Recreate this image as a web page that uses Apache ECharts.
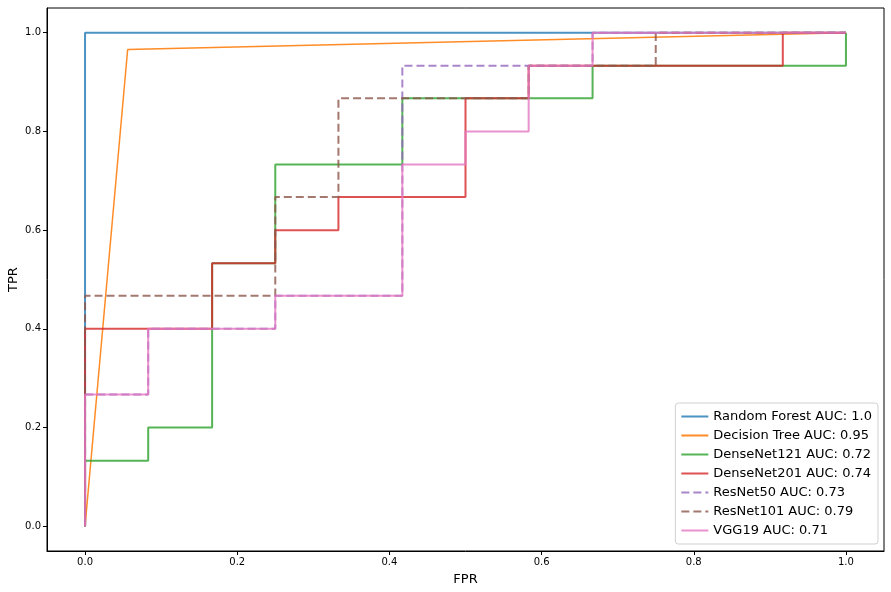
<!DOCTYPE html>
<html><head><meta charset="utf-8">
<script src="https://cdn.jsdelivr.net/npm/echarts@6/dist/echarts.min.js"></script>
<style>html,body{margin:0;padding:0;background:#fff}#c{width:891px;height:592px}</style>
</head><body><div id="c"></div>
<script>
const seriesNames = ['Random Forest AUC: 1.0','Decision Tree AUC: 0.95','DenseNet121 AUC: 0.72','DenseNet201 AUC: 0.74','ResNet50 AUC: 0.73','ResNet101 AUC: 0.79','VGG19 AUC: 0.71'];
const rfFPR = [0, 0, 1];
const rfTPR = [0, 1, 1];
const dtFPR = [0, 0.056, 1];
const dtTPR = [0, 0.966, 1];
const d121FPR = [0, 0, 0.083, 0.083, 0.167, 0.167, 0.25, 0.25, 0.417, 0.417, 0.667, 0.667, 1, 1];
const d121TPR = [0, 0.133, 0.133, 0.2, 0.2, 0.533, 0.533, 0.733, 0.733, 0.867, 0.867, 0.933, 0.933, 1];
const d201FPR = [0, 0, 0.167, 0.167, 0.25, 0.25, 0.333, 0.333, 0.5, 0.5, 0.583, 0.583, 0.917, 0.917, 1];
const d201TPR = [0, 0.4, 0.4, 0.533, 0.533, 0.6, 0.6, 0.667, 0.667, 0.867, 0.867, 0.933, 0.933, 1, 1];
const r50FPR = [0, 0, 0.083, 0.083, 0.25, 0.25, 0.417, 0.417, 0.667, 0.667, 1];
const r50TPR = [0, 0.267, 0.267, 0.4, 0.4, 0.467, 0.467, 0.933, 0.933, 1, 1];
const r101FPR = [0, 0, 0.25, 0.25, 0.333, 0.333, 0.583, 0.583, 0.75, 0.75, 1];
const r101TPR = [0, 0.467, 0.467, 0.667, 0.667, 0.867, 0.867, 0.933, 0.933, 1, 1];
const vggFPR = [0, 0, 0.083, 0.083, 0.25, 0.25, 0.417, 0.417, 0.5, 0.5, 0.583, 0.583, 0.667, 0.667, 1];
const vggTPR = [0, 0.267, 0.267, 0.4, 0.4, 0.467, 0.467, 0.733, 0.733, 0.8, 0.8, 0.933, 0.933, 1, 1];
const tickValues = [0, 0.2, 0.4, 0.6, 0.8, 1.0];

const colors = ['#1f77b4','#ff7f0e','#2ca02c','#d62728','#9467bd','#8c564b','#e377c2'];
const lineTypes = ['solid','solid','solid','solid','dashed','dashed','solid'];
const widths = [2, 1.5, 2, 2, 2, 2, 2];
const xs = [rfFPR, dtFPR, d121FPR, d201FPR, r50FPR, r101FPR, vggFPR];
const ys = [rfTPR, dtTPR, d121TPR, d201TPR, r50TPR, r101TPR, vggTPR];

const series = seriesNames.map((n, i) => ({
  name: n, type: 'line', showSymbol: false, symbol: 'none',
  data: xs[i].map((x, j) => [x, ys[i][j]]),
  lineStyle: {color: colors[i], width: widths[i], type: lineTypes[i], opacity: i === 1 ? 0.9 : 0.8},
  itemStyle: {color: colors[i]},
  z: 2 + i
}));

const font = 'DejaVu Sans';
const axisCommon = (name) => ({
  type: 'value', min: -0.05, max: 1.05,
  name: name, nameLocation: 'middle',
  nameTextStyle: {fontFamily: font, fontSize: 13, color: '#000'},
  axisLine: {show: true, onZero: false, lineStyle: {color: '#000', width: 1}},
  axisTick: {show: true, inside: false, length: 4, customValues: tickValues, lineStyle: {color: '#000'}},
  axisLabel: {customValues: tickValues, formatter: v => v.toFixed(1), fontFamily: font, fontSize: 10, color: '#000', margin: 6},
  splitLine: {show: false}
});

const chart = echarts.init(document.getElementById('c'), null, {renderer: 'canvas'});
chart.setOption({
  animation: false,
  backgroundColor: '#fff',
  grid: {left: 47, right: 7, top: 8, bottom: 41, show: true, borderColor: '#000', borderWidth: 1, containLabel: false, outerBoundsMode: 'none'},
  xAxis: Object.assign(axisCommon('FPR'), {nameGap: 22}),
  yAxis: Object.assign(axisCommon('TPR'), {nameGap: 27, nameMoveOverlap: false}),
  legend: {
    orient: 'vertical', right: 13, bottom: 48,
    backgroundColor: '#fff', borderColor: '#d0d0d0', borderWidth: 1, borderRadius: 3,
    padding: [7, 6, 7, 5], itemGap: 6, itemWidth: 27, itemHeight: 14,
    itemStyle: {opacity: 0},
    textStyle: {fontFamily: font, fontSize: 13, color: '#000'},
    data: seriesNames
  },
  series: series
});
</script></body></html>
